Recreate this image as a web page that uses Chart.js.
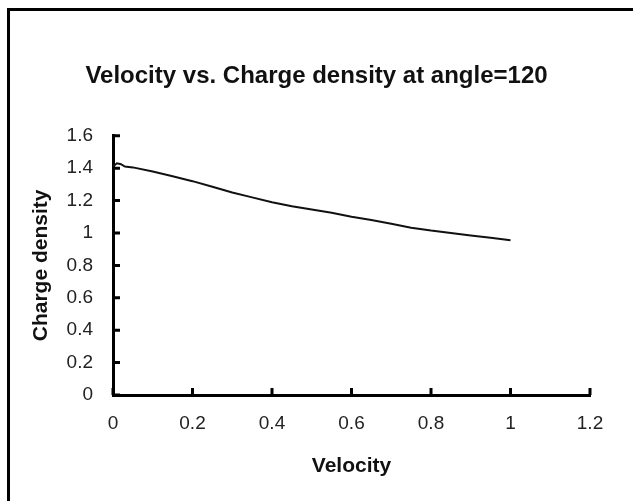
<!DOCTYPE html>
<html>
<head>
<meta charset="utf-8">
<script src="https://cdn.jsdelivr.net/npm/chart.js@4"></script>
<style>
  body { margin: 0; background: #fff; }
  #wrap { position: relative; width: 633px; height: 501px; overflow: hidden; }
  #frame { position: absolute; left: 7px; top: 8px; width: 700px; height: 600px;
           border-left: 3px solid #000; border-top: 3px solid #000; }
  #chart { position: absolute; left: 0; top: 0; }
</style>
</head>
<body>
<div id="wrap">
  <div id="frame"></div>
  <canvas id="chart" width="633" height="501"></canvas>
</div>
<script>
// values
var velocity = [0, 0.01, 0.02, 0.03, 0.05, 0.1, 0.15, 0.2, 0.25, 0.3, 0.35, 0.4, 0.45, 0.5,
                0.55, 0.6, 0.65, 0.7, 0.75, 0.8, 0.85, 0.9, 0.95, 1.0];
var chargeDensity = [1.41, 1.43, 1.425, 1.41, 1.405, 1.38, 1.35, 1.32, 1.285, 1.25, 1.22, 1.19, 1.165, 1.145,
                     1.125, 1.10, 1.08, 1.057, 1.033, 1.015, 1.0, 0.985, 0.97, 0.955];
var xTicks = [0, 0.2, 0.4, 0.6, 0.8, 1, 1.2];
var xTickLabels = ['0', '0.2', '0.4', '0.6', '0.8', '1', '1.2'];
var yTicks = [0, 0.2, 0.4, 0.6, 0.8, 1, 1.2, 1.4, 1.6];
var yTickLabels = ['0', '0.2', '0.4', '0.6', '0.8', '1', '1.2', '1.4', '1.6'];

var pts = [];
for (var i = 0; i < velocity.length; i++) {
    pts.push({ x: velocity[i], y: chargeDensity[i] });
}

// Excel style tick marks pointing into the plot
var innerTicks = {
    id: 'innerTicks',
    afterDraw: function (chart) {
        var c = chart.ctx, xs = chart.scales.x, ys = chart.scales.y;
        var a = chart.chartArea;
        c.save();
        c.strokeStyle = '#000';
        c.lineWidth = 3;
        c.beginPath();
        xTicks.forEach(function (v) {
            var px = xs.getPixelForValue(v);
            c.moveTo(px, a.bottom);
            c.lineTo(px, a.bottom - 7);
        });
        yTicks.forEach(function (v) {
            var py = ys.getPixelForValue(v);
            c.moveTo(a.left, py);
            c.lineTo(a.left + 7, py);
        });
        c.stroke();
        c.restore();
    }
};

Chart.defaults.font.family = '"Liberation Sans", Arial, sans-serif';
Chart.defaults.color = '#222';

new Chart(document.getElementById('chart'), {
    type: 'line',
    data: {
        datasets: [{
            data: pts,
            borderColor: '#111',
            borderWidth: 2,
            pointRadius: 0,
            tension: 0,
            fill: false
        }]
    },
    options: {
        responsive: false,
        animation: false,
        layout: { padding: 0 },
        plugins: {
            legend: { display: false },
            tooltip: { enabled: false },
            title: {
                display: true,
                text: 'Velocity vs. Charge density at angle=120',
                color: '#111',
                font: { size: 24, weight: 'bold' },
                padding: { top: 62, bottom: 45 }
            }
        },
        scales: {
            x: {
                type: 'linear',
                min: 0, max: 1.2,
                afterFit: function (s) { s.height = 106; },
                afterBuildTicks: function (s) {
                    s.ticks = xTicks.map(function (v) { return { value: v }; });
                },
                ticks: {
                    font: { size: 19 },
                    padding: 17,
                    maxRotation: 0,
                    callback: function (v, i) { return xTickLabels[i]; }
                },
                grid: { display: false, drawTicks: false },
                border: { display: true, color: '#000', width: 3 },
                title: {
                    display: true,
                    text: 'Velocity',
                    color: '#111',
                    font: { size: 21, weight: 'bold' },
                    padding: { top: 0, bottom: 22 }
                }
            },
            y: {
                min: 0, max: 1.6,
                afterFit: function (s) { s.width = 113; },
                afterBuildTicks: function (s) {
                    s.ticks = yTicks.map(function (v) { return { value: v }; });
                },
                ticks: {
                    font: { size: 19 },
                    padding: 20,
                    callback: function (v, i) { return yTickLabels[i]; }
                },
                grid: { display: false, drawTicks: false },
                border: { display: true, color: '#000', width: 3 },
                title: {
                    display: true,
                    text: 'Charge density',
                    color: '#111',
                    font: { size: 21, weight: 'bold' },
                    padding: { top: 29, bottom: 0 }
                }
            },
            // empty right-hand space of the plot, so the title stays centred on the page
            yRight: {
                position: 'right',
                display: true,
                afterFit: function (s) { s.width = 43; },
                ticks: { display: false },
                grid: { display: false, drawTicks: false },
                border: { display: false }
            }
        }
    },
    plugins: [innerTicks]
});
</script>
</body>
</html>
